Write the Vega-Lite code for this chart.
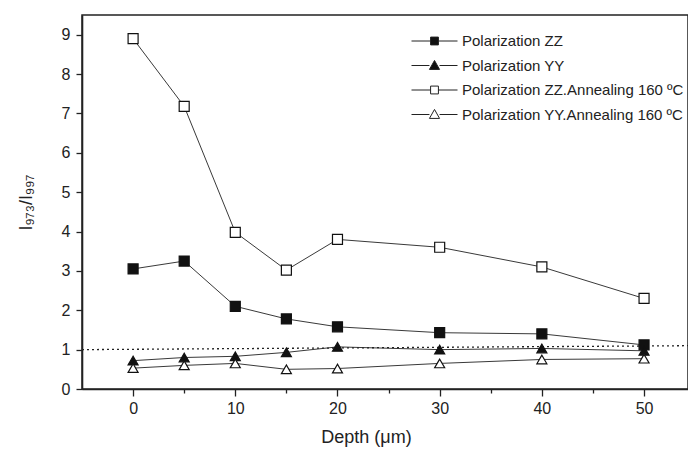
{
  "$schema": "https://vega.github.io/schema/vega-lite/v6.json",
  "width": 606,
  "height": 374,
  "autosize": {"type": "none"},
  "padding": {"left": 82, "top": 15, "right": 0, "bottom": 63},
  "background": "white",
  "config": {
    "view": {"stroke": "#222", "strokeWidth": 1.5},
    "font": "Liberation Sans, Arial",
    "axis": {
      "domainColor": "#222", "domainWidth": 1.6,
      "tickColor": "#222", "tickWidth": 1.3,
      "labelColor": "#222", "titleColor": "#222",
      "grid": false, "labelFontSize": 16, "titleFontSize": 18,
      "titleFontWeight": "normal",
      "labelFont": "Liberation Sans, Arial",
      "titleFont": "Liberation Sans, Arial"
    },
    "legend": {"labelLimit": 400}
  },
  "datasets": {
    "main": [
      {"depth": 0, "ratio": 3.05, "series": "Polarization ZZ"},
      {"depth": 5, "ratio": 3.25, "series": "Polarization ZZ"},
      {"depth": 10, "ratio": 2.1, "series": "Polarization ZZ"},
      {"depth": 15, "ratio": 1.78, "series": "Polarization ZZ"},
      {"depth": 20, "ratio": 1.58, "series": "Polarization ZZ"},
      {"depth": 30, "ratio": 1.43, "series": "Polarization ZZ"},
      {"depth": 40, "ratio": 1.4, "series": "Polarization ZZ"},
      {"depth": 50, "ratio": 1.12, "series": "Polarization ZZ"},
      {"depth": 0, "ratio": 0.72, "series": "Polarization YY"},
      {"depth": 5, "ratio": 0.8, "series": "Polarization YY"},
      {"depth": 10, "ratio": 0.83, "series": "Polarization YY"},
      {"depth": 15, "ratio": 0.93, "series": "Polarization YY"},
      {"depth": 20, "ratio": 1.07, "series": "Polarization YY"},
      {"depth": 30, "ratio": 1.0, "series": "Polarization YY"},
      {"depth": 40, "ratio": 1.03, "series": "Polarization YY"},
      {"depth": 50, "ratio": 0.97, "series": "Polarization YY"},
      {"depth": 0, "ratio": 8.9, "series": "Polarization ZZ.Annealing 160 ºC"},
      {"depth": 5, "ratio": 7.18, "series": "Polarization ZZ.Annealing 160 ºC"},
      {"depth": 10, "ratio": 3.98, "series": "Polarization ZZ.Annealing 160 ºC"},
      {"depth": 15, "ratio": 3.02, "series": "Polarization ZZ.Annealing 160 ºC"},
      {"depth": 20, "ratio": 3.8, "series": "Polarization ZZ.Annealing 160 ºC"},
      {"depth": 30, "ratio": 3.6, "series": "Polarization ZZ.Annealing 160 ºC"},
      {"depth": 40, "ratio": 3.1, "series": "Polarization ZZ.Annealing 160 ºC"},
      {"depth": 50, "ratio": 2.3, "series": "Polarization ZZ.Annealing 160 ºC"},
      {"depth": 0, "ratio": 0.53, "series": "Polarization YY.Annealing 160 ºC"},
      {"depth": 5, "ratio": 0.6, "series": "Polarization YY.Annealing 160 ºC"},
      {"depth": 10, "ratio": 0.65, "series": "Polarization YY.Annealing 160 ºC"},
      {"depth": 15, "ratio": 0.5, "series": "Polarization YY.Annealing 160 ºC"},
      {"depth": 20, "ratio": 0.52, "series": "Polarization YY.Annealing 160 ºC"},
      {"depth": 30, "ratio": 0.65, "series": "Polarization YY.Annealing 160 ºC"},
      {"depth": 40, "ratio": 0.75, "series": "Polarization YY.Annealing 160 ºC"},
      {"depth": 50, "ratio": 0.77, "series": "Polarization YY.Annealing 160 ºC"}
    ],
    "ref": [
      {"depth": -5, "ratio": 1.0},
      {"depth": 54.3, "ratio": 1.1}
    ]
  },
  "layer": [
    {
      "data": {"name": "ref"},
      "mark": {"type": "line", "color": "#222", "strokeWidth": 1.3, "strokeDash": [2, 3], "clip": true},
      "encoding": {
        "x": {"field": "depth", "type": "quantitative", "scale": {"domain": [-5, 54.3], "nice": false, "zero": false},
          "axis": {
            "title": "Depth (μm)",
            "values": [0, 5, 10, 15, 20, 25, 30, 35, 40, 45, 50],
            "labelExpr": "datum.value % 10 === 0 ? datum.label : ''",
            "tickSize": {"condition": {"test": "datum.value % 10 !== 0", "value": 4}, "value": 7},
            "labelPadding": 4,
            "titleX": 284, "titleY": 48, "titleBaseline": "middle", "titleAnchor": null
          }},
        "y": {"field": "ratio", "type": "quantitative", "scale": {"domain": [0, 9.5], "nice": false},
          "axis": {
            "title": "I₉₇₃/I₉₉₇",
            "values": [0, 0.5, 1, 1.5, 2, 2.5, 3, 3.5, 4, 4.5, 5, 5.5, 6, 6.5, 7, 7.5, 8, 8.5, 9],
            "labelExpr": "datum.value % 1 === 0 ? datum.label : ''",
            "tickSize": {"condition": {"test": "datum.value % 1 !== 0", "value": 4}, "value": 6},
            "labelPadding": 6,
            "titlePadding": 26
          }}
      }
    },
    {
      "data": {"name": "main"},
      "mark": {"type": "line", "color": "#222", "strokeWidth": 0.9},
      "encoding": {
        "x": {"field": "depth", "type": "quantitative", "scale": {"domain": [-5, 54.3], "nice": false, "zero": false}},
        "y": {"field": "ratio", "type": "quantitative", "scale": {"domain": [0, 9.5], "nice": false}},
        "detail": {"field": "series", "type": "nominal"}
      }
    },
    {
      "data": {"name": "main"},
      "mark": {"type": "point", "filled": true, "opacity": 1, "stroke": "#111", "strokeWidth": 1.2, "size": 100},
      "encoding": {
        "x": {"field": "depth", "type": "quantitative", "scale": {"domain": [-5, 54.3], "nice": false, "zero": false}},
        "y": {"field": "ratio", "type": "quantitative", "scale": {"domain": [0, 9.5], "nice": false}},
        "shape": {
          "field": "series", "type": "nominal",
          "scale": {"domain": ["Polarization ZZ", "Polarization YY", "Polarization ZZ.Annealing 160 ºC", "Polarization YY.Annealing 160 ºC"],
                    "range": ["square", "triangle-up", "square", "triangle-up"]},
          "legend": null
        },
        "fill": {
          "field": "series", "type": "nominal",
          "scale": {"domain": ["Polarization ZZ", "Polarization YY", "Polarization ZZ.Annealing 160 ºC", "Polarization YY.Annealing 160 ºC"],
                    "range": ["#111", "#111", "white", "white"]},
          "legend": null
        }
      }
    },
    {
      "data": {"name": "main"},
      "transform": [{"filter": "datum.depth < -100"}],
      "mark": {"type": "point", "filled": true, "opacity": 1, "strokeWidth": 1},
      "encoding": {
        "x": {"field": "depth", "type": "quantitative", "scale": {"domain": [-5, 54.3], "nice": false, "zero": false}},
        "y": {"field": "ratio", "type": "quantitative", "scale": {"domain": [0, 9.5], "nice": false}},
        "shape": {
          "field": "series", "type": "nominal",
          "scale": {"domain": ["Polarization ZZ", "Polarization YY", "Polarization ZZ.Annealing 160 ºC", "Polarization YY.Annealing 160 ºC"],
                    "range": ["M-1,0H-0.17M0.17,0H1M-0.17,-0.17H0.17V0.17H-0.17Z", "M-1,0H-0.22M0.22,0H1M0,-0.22L0.22,0.17L-0.22,0.17Z", "M-1,0H-0.17M0.17,0H1M-0.17,-0.17H0.17V0.17H-0.17Z", "M-1,0H-0.22M0.22,0H1M0,-0.22L0.22,0.17L-0.22,0.17Z"]},
          "legend": {
            "title": null, "orient": "none", "legendX": 329, "legendY": 16,
            "symbolSize": 2116, "clipHeight": 20, "rowPadding": 4.5,
            "labelFontSize": 15, "labelOffset": 4, "labelColor": "#222", "labelLimit": 400,
            "symbolStrokeWidth": 1, "padding": 0
          }
        },
        "fill": {
          "field": "series", "type": "nominal",
          "scale": {"domain": ["Polarization ZZ", "Polarization YY", "Polarization ZZ.Annealing 160 ºC", "Polarization YY.Annealing 160 ºC"],
                    "range": ["#111", "#111", "white", "white"]},
          "legend": {
            "title": null, "orient": "none", "legendX": 329, "legendY": 16,
            "symbolSize": 2116, "clipHeight": 20, "rowPadding": 4.5,
            "labelFontSize": 15, "labelOffset": 4, "labelColor": "#222", "labelLimit": 400,
            "symbolStrokeWidth": 1, "padding": 0
          }
        },
        "stroke": {
          "field": "series", "type": "nominal",
          "scale": {"domain": ["Polarization ZZ", "Polarization YY", "Polarization ZZ.Annealing 160 ºC", "Polarization YY.Annealing 160 ºC"],
                    "range": ["#222", "#222", "#222", "#222"]},
          "legend": {
            "title": null, "orient": "none", "legendX": 329, "legendY": 16,
            "symbolSize": 2116, "clipHeight": 20, "rowPadding": 4.5,
            "labelFontSize": 15, "labelOffset": 4, "labelColor": "#222", "labelLimit": 400,
            "symbolStrokeWidth": 1, "padding": 0
          }
        }
      }
    }
  ],
  "resolve": {"scale": {"shape": "independent", "fill": "independent", "stroke": "independent"}}
}
